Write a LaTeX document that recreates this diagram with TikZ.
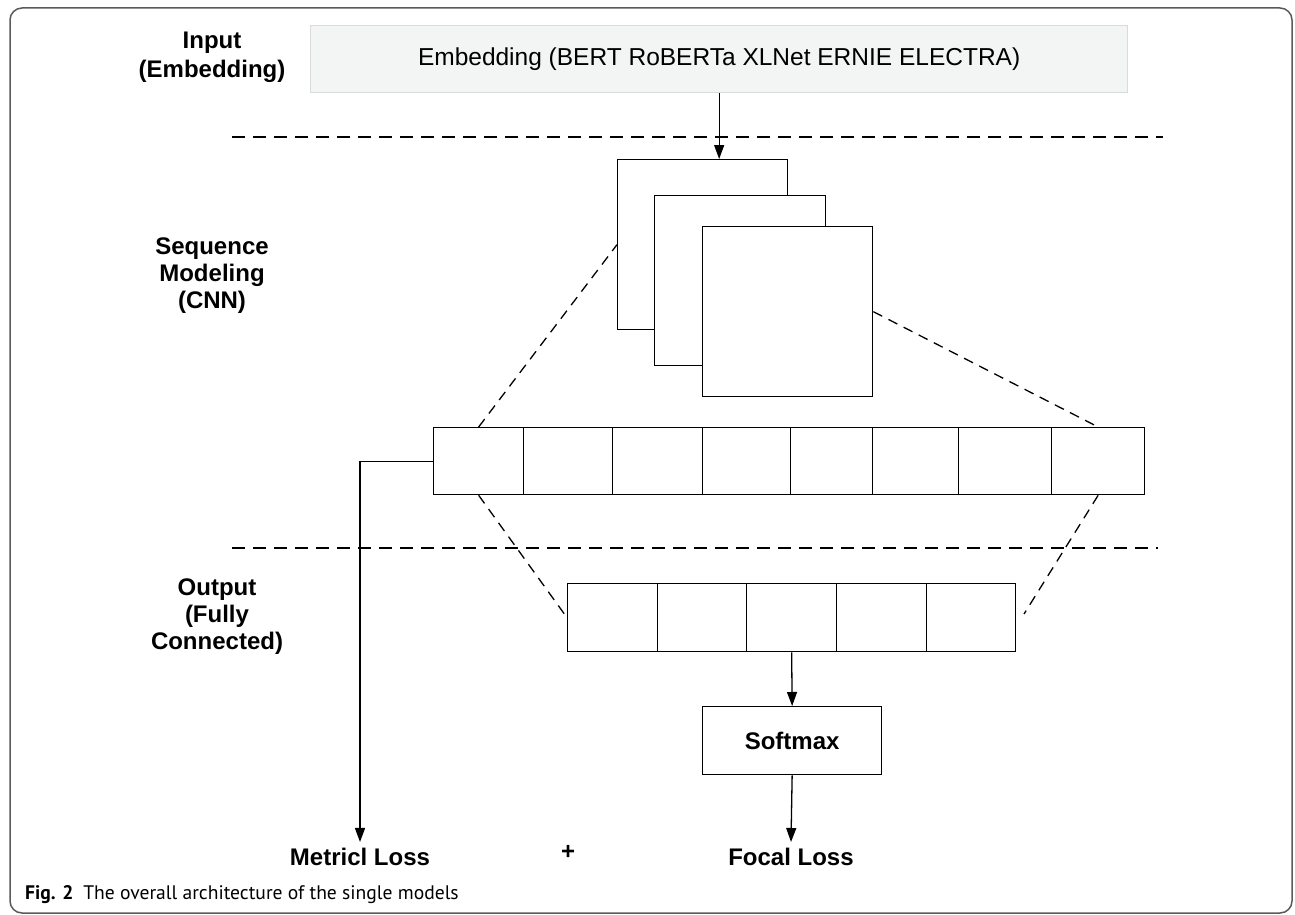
\documentclass[tikz,border=0pt]{standalone}
\usepackage{fontspec}
\setmainfont{Liberation Sans}
\newfontfamily\capfont{PT Sans}
\usetikzlibrary{arrows.meta}
\definecolor{embfill}{HTML}{F3F4F4}
\definecolor{embline}{HTML}{D9DBDB}
\definecolor{framegray}{HTML}{5A5A5A}

\begin{document}
\begin{tikzpicture}[x=1pt,y=-1pt,
  cell/.style={draw,line width=1.3pt,fill=white,inner sep=0pt,anchor=north west},
  lbl/.style={font=\bfseries\fontsize{24}{27}\selectfont,align=center},
  sep/.style={line width=1.3pt,dash pattern=on 13pt off 8pt},
  diag/.style={line width=1.3pt,dash pattern=on 10pt off 7pt},
  arr/.style={line width=1.3pt,-{Triangle[length=14pt,width=10pt]}}]
  \useasboundingbox (0,0) rectangle (1295,915);
  \draw[framegray,line width=1.5pt,rounded corners=12pt] (10,8) rectangle (1292,913);

  % labels on the left
  \node[lbl,font=\bfseries\fontsize{24}{29}\selectfont] (inlbl) at (212,57) {Input\\(Embedding)};
  \node[lbl] (seqlbl) at (212,276) {Sequence\\Modeling\\(CNN)};
  \node[lbl] (outlbl) at (217,617) {Output\\(Fully\\Connected)};

  % input
  \node[cell,fill=embfill,draw=embline,minimum width=817,minimum height=67,
    font=\fontsize{24.5}{28}\selectfont] (emb) at (310,25)
    {Embedding (BERT RoBERTa XLNet ERNIE ELECTRA)};
  \draw[sep] (232,137) -- (1163,137);
  \draw[sep] (232,548) -- (1158,548);

  % convolution maps
  \node[cell,minimum width=170,minimum height=170] (k1) at (617,159) {};
  \node[cell,minimum width=171,minimum height=170] (k2) at (654,195) {};
  \node[cell,minimum width=170,minimum height=170] (k3) at (702,226) {};
  \draw[arr] (emb.south) -- (emb.south |- k1.north);

  % sequence cells
  \node[cell,minimum width=90,minimum height=67] (c1) at (433,427) {};
  \node[cell,minimum width=89,minimum height=67] (c2) at (523,427) {};
  \node[cell,minimum width=90,minimum height=67] (c3) at (612,427) {};
  \node[cell,minimum width=88,minimum height=67] (c4) at (702,427) {};
  \node[cell,minimum width=82,minimum height=67] (c5) at (790,427) {};
  \node[cell,minimum width=86,minimum height=67] (c6) at (872,427) {};
  \node[cell,minimum width=93,minimum height=67] (c7) at (958,427) {};
  \node[cell,minimum width=93,minimum height=67] (c8) at (1051,427) {};
  \draw[diag] (c1.north) -- (k1.west);
  \draw[diag] (k3.east) -- (c8.north);

  % fully connected cells
  \node[cell,minimum width=90,minimum height=68] (o1) at (567,583) {};
  \node[cell,minimum width=89,minimum height=68] (o2) at (657,583) {};
  \node[cell,minimum width=90,minimum height=68] (o3) at (746,583) {};
  \node[cell,minimum width=90,minimum height=68] (o4) at (836,583) {};
  \node[cell,minimum width=89,minimum height=68] (o5) at (926,583) {};
  \coordinate (rend) at (1024,614);
  \draw[diag] (c1.south) -- (o1.west);
  \draw[diag] (c8.south) -- (rend);

  % softmax and losses
  \node[cell,minimum width=179,minimum height=68,font=\bfseries\fontsize{24}{27}\selectfont]
    (sm) at (702,706) {Softmax};
  \node[lbl,inner xsep=0pt,inner ysep=6pt] (ml) at (360,857) {Metricl Loss};
  \node[lbl,inner xsep=0pt,inner ysep=6pt] (fl) at (791,857) {Focal Loss};
  \node[lbl] (plus) at (568,852) {+};
  \draw[arr] (o3.south) -- (sm.north);
  \draw[arr] (sm.south) -- (fl.north);
  \draw[arr] (c1.west) -| (ml.north);

  % caption
  \node[anchor=west,inner sep=0pt,font=\capfont\fontsize{19.6}{23}\selectfont] (cap) at (25,895)
    {\textbf{Fig. 2}\enspace The overall architecture of the single models};
\end{tikzpicture}
\end{document}
